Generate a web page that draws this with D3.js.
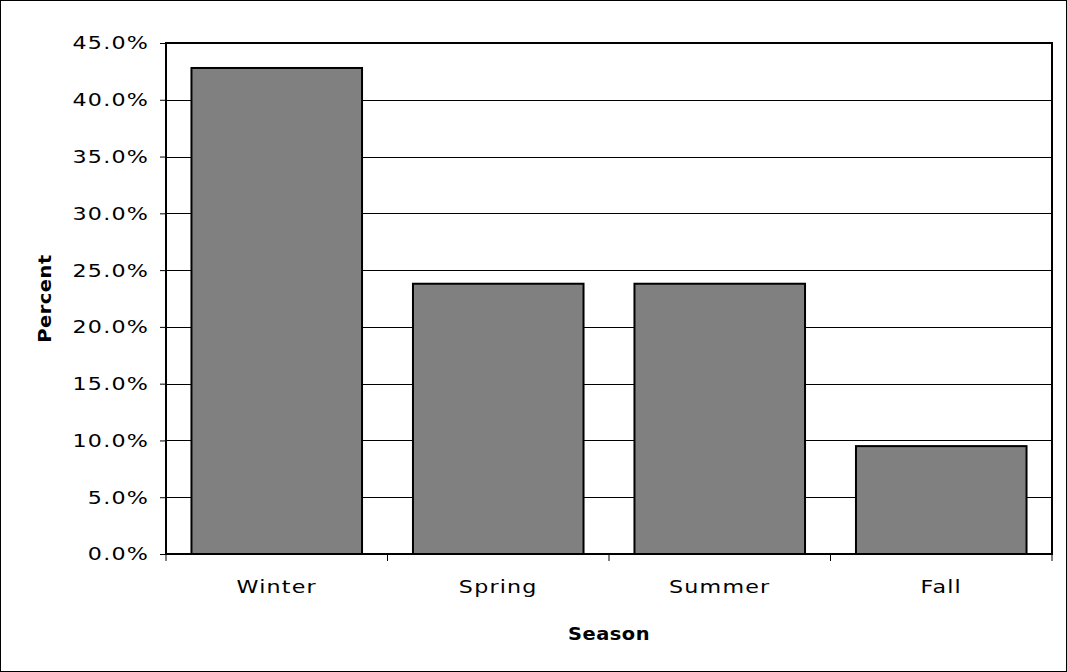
<!DOCTYPE html>
<html><head><meta charset="utf-8">
<script src="https://cdn.jsdelivr.net/npm/d3@7"></script>
<style>body{margin:0;background:#fff}</style>
</head><body>
<script>
// data
var seasons = ["Winter", "Spring", "Summer", "Fall"];
var percents = [42.8, 23.8, 23.8, 9.5];
var yTicks = [0, 5, 10, 15, 20, 25, 30, 35, 40, 45];

var W = 1067, H = 672;
var m = {left: 166, right: 1052, top: 43, bottom: 554};
var font = "'DejaVu Sans', Verdana, sans-serif";
var fs = "18.5px", ls = "1px", sx = 1.2;

var svg = d3.select("body").append("svg").attr("width", W).attr("height", H);

svg.append("rect").attr("x", 0.5).attr("y", 0.5).attr("width", W - 1).attr("height", H - 1)
   .style("fill", "#fff").style("stroke", "#000");

var x = d3.scaleBand().domain(seasons).range([m.left, m.right]).paddingInner(0.23).paddingOuter(0.115);
var y = d3.scaleLinear().domain([0, 45]).range([m.bottom, m.top]);

// gridlines
svg.selectAll("line.grid").data(yTicks.slice(1)).enter().append("line")
   .attr("x1", m.left).attr("x2", m.right)
   .attr("y1", function(d) { return Math.round(y(d)) + 0.5; })
   .attr("y2", function(d) { return Math.round(y(d)) + 0.5; })
   .style("stroke", "#000").style("stroke-width", 1);

svg.selectAll("rect.bar").data(percents).enter().append("rect")
   .attr("x", function(d, i) { return x(seasons[i]); })
   .attr("y", function(d) { return y(d); })
   .attr("width", x.bandwidth())
   .attr("height", function(d) { return y(0) - y(d); })
   .style("fill", "#808080").style("stroke", "#000").style("stroke-width", 2);

// plot frame
svg.append("rect").attr("x", m.left).attr("y", m.top)
   .attr("width", m.right - m.left).attr("height", m.bottom - m.top)
   .style("fill", "none").style("stroke", "#000").style("stroke-width", 2);

var yAxis = svg.append("g").attr("transform", "translate(" + m.left + ",0)")
   .call(d3.axisLeft(y).tickValues(yTicks).tickSize(6)
   .tickFormat(function(d) { return d.toFixed(1) + "%"; }));
yAxis.select(".domain").remove();
yAxis.selectAll(".tick text").attr("x", -17 / sx);

var step = (m.right - m.left) / seasons.length;
var xAxis = svg.append("g").attr("transform", "translate(0," + m.bottom + ")")
   .call(d3.axisBottom(x).tickSize(0).tickPadding(26));
xAxis.select(".domain").remove();
svg.selectAll("line.xt").data(d3.range(seasons.length + 1)).enter().append("line")
   .attr("x1", function(i) { return m.left + i * step; })
   .attr("x2", function(i) { return m.left + i * step; })
   .attr("y1", m.bottom).attr("y2", m.bottom + 7)
   .style("stroke", "#000");

svg.selectAll(".tick text").attr("transform", "scale(" + sx + ",1)")
   .style("font-family", font).style("font-size", fs)
   .style("letter-spacing", ls).style("fill", "#000");
svg.selectAll(".tick line").style("stroke", "#000");

svg.append("text").attr("transform", "translate(" + (m.left + m.right) / 2 + ",640) scale(1.05,1)")
   .attr("text-anchor", "middle").style("font-family", font).style("font-size", fs)
   .style("letter-spacing", "0.5px").style("font-weight", "bold").text("Season");
svg.append("text").attr("transform", "translate(51," + (m.top + m.bottom) / 2 + ") rotate(-90) scale(1.05,1)")
   .attr("text-anchor", "middle").style("font-family", font).style("font-size", fs)
   .style("letter-spacing", "0.5px").style("font-weight", "bold").text("Percent");
</script>
</body></html>
